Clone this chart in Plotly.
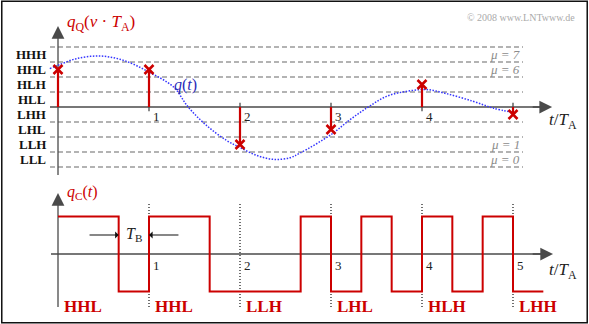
import plotly.graph_objects as go

# ---------------- data ----------------
level_labels = ["HHH", "HHL", "HLH", "HLL", "LHH", "LHL", "LLH", "LLL"]
level_values = [3.5, 2.5, 1.5, 0.5, -0.5, -1.5, -2.5, -3.5]
boundaries = [4, 3, 2, 1, -1, -2, -3, -4]
mu_labels = ["μ = 7", "μ = 6", "μ = 1", "μ = 0"]
mu_values = [3.5, 2.5, -2.5, -3.5]

t_curve = [-0.09, 0.0, 0.2, 0.46, 0.72, 1.0, 1.27, 1.43, 1.63, 1.85, 2.0, 2.18,
           2.37, 2.55, 2.66, 3.0, 3.21, 3.41, 3.61, 3.83, 4.05, 4.27, 4.56, 4.78, 5.0]
q_curve = [2.56, 2.78, 3.22, 3.40, 3.11, 2.33, 1.33, 0.0, -1.22, -2.22, -2.70, -3.22,
           -3.49, -3.38, -3.07, -1.84, -0.84, 0.0, 0.71, 1.04, 1.16, 0.89, 0.38, -0.07, -0.36]

t_samples = [0, 1, 2, 3, 4, 5]
q_quant = [2.5, 2.5, -2.5, -1.5, 1.5, -0.5]
code_words = ["HHL", "HHL", "LLH", "LHL", "HLH", "LHH"]
bit_level = {"H": 1, "L": -1}
tick_labels = ["1", "2", "3", "4", "5"]

RED = "#cc0000"
AX = "#4a4a4a"
SERIF = "Liberation Serif"

fig = go.Figure()

# ---------------- top panel ----------------
xs, ys = [], []
for b in boundaries:
    xs += [-0.088, 5.11, None]
    ys += [b, b, None]
fig.add_trace(go.Scatter(x=xs, y=ys, mode="lines",
                         line=dict(color="#9a9a9a", width=1.5, dash="5px,3px"),
                         hoverinfo="skip", showlegend=False))

fig.add_trace(go.Scatter(x=[-0.088, 5.35], y=[0, 0], mode="lines",
                         line=dict(color=AX, width=1.3), showlegend=False, hoverinfo="skip"))
fig.add_trace(go.Scatter(x=[0, 0], y=[-4.53, 5.1], mode="lines",
                         line=dict(color=AX, width=1.3), showlegend=False, hoverinfo="skip"))

xs, ys = [], []
for t, q in zip(t_samples[1:], q_quant[1:]):
    s = -0.28 if q > 0 else 0.28
    xs += [t, t, None]
    ys += [0, s, None]
fig.add_trace(go.Scatter(x=xs, y=ys, mode="lines", line=dict(color=AX, width=1.3),
                         showlegend=False, hoverinfo="skip"))

fig.add_trace(go.Scatter(x=t_curve, y=q_curve, mode="lines", line_shape="spline",
                         line=dict(color="#3535ff", width=1.5, dash="1.5px,1.5px"),
                         showlegend=False, hoverinfo="skip"))

xs, ys = [], []
for t, q in zip(t_samples, q_quant):
    xs += [t, t, None]
    ys += [0, q, None]
fig.add_trace(go.Scatter(x=xs, y=ys, mode="lines", line=dict(color=RED, width=2.2),
                         showlegend=False, hoverinfo="skip"))
fig.add_trace(go.Scatter(x=t_samples, y=q_quant, mode="markers",
                         marker=dict(symbol="x-thin", size=9, line=dict(color=RED, width=2.6)),
                         showlegend=False, hoverinfo="skip"))

# ---------------- bottom panel ----------------
bits = "".join(code_words)
n = 16
sx = [i / 3 for i in range(n)] + [n / 3]
sy = [bit_level[c] for c in bits[:n]] + [bit_level[bits[n - 1]]]

xs, ys = [], []
for t in t_samples[1:]:
    xs += [t, t, None]
    ys += [-1.41, 1.39, None]
fig.add_trace(go.Scatter(x=xs, y=ys, yaxis="y2", mode="lines",
                         line=dict(color="#222222", width=1.3, dash="1px,2px"),
                         showlegend=False, hoverinfo="skip"))
fig.add_trace(go.Scatter(x=[-0.077, 5.35], y=[0, 0], yaxis="y2", mode="lines",
                         line=dict(color=AX, width=1.3), showlegend=False, hoverinfo="skip"))
fig.add_trace(go.Scatter(x=[0, 0], y=[-1.41, 1.45], yaxis="y2", mode="lines",
                         line=dict(color=AX, width=1.3), showlegend=False, hoverinfo="skip"))
fig.add_trace(go.Scatter(x=sx, y=sy, yaxis="y2", mode="lines", line_shape="hv",
                         line=dict(color=RED, width=2.0), showlegend=False, hoverinfo="skip"))

ann = []
for (x0, x1, y0, y1, yr) in [(5.2, 5.43, 0, 0, "y"), (0, 0, 4.9, 5.4, "y"),
                             (5.2, 5.44, 0, 0, "y2"), (0, 0, 1.3, 1.63, "y2")]:
    ann.append(dict(x=x1, y=y1, ax=x0, ay=y0, xref="x", yref=yr, axref="x", ayref=yr,
                    text="", showarrow=True, arrowhead=2, arrowsize=1.7, arrowwidth=1.5,
                    arrowcolor=AX, standoff=0))
for (x0, x1) in [(0.33, 0.667), (1.34, 1.0)]:
    ann.append(dict(x=x1, y=0.507, ax=x0, ay=0.507, xref="x", yref="y2", axref="x", ayref="y2",
                    text="", showarrow=True, arrowhead=1, arrowsize=1.0, arrowwidth=1.2,
                    arrowcolor="#111111", standoff=0))
ann.append(dict(x=0.84, y=0.507, xref="x", yref="y2", text="<i>T</i><sub>B</sub>",
                showarrow=False, font=dict(family=SERIF, size=16, color="#222222")))

for lab, v in zip(level_labels, level_values):
    ann.append(dict(x=-0.105, y=v, xref="x", yref="y", text="<b>" + lab + "</b>",
                    xanchor="right", yanchor="middle", showarrow=False,
                    font=dict(family=SERIF, size=13, color="#111111")))
for lab, v in zip(mu_labels, mu_values):
    ann.append(dict(x=5.1, y=v, xref="x", yref="y", text="<i>" + lab + "</i>",
                    xanchor="right", yanchor="middle", showarrow=False,
                    font=dict(family=SERIF, size=13, color="#8c8c8c")))
for t, lab in zip(t_samples[1:], tick_labels):
    if t < 5:
        ann.append(dict(x=t + 0.02, y=-0.6, xref="x", yref="y", text=lab, xanchor="left",
                        yanchor="middle", showarrow=False,
                        font=dict(family=SERIF, size=13, color="#222222")))
    ann.append(dict(x=t + 0.02, y=-0.3, xref="x", yref="y2", text=lab, xanchor="left",
                    yanchor="middle", showarrow=False,
                    font=dict(family=SERIF, size=13, color="#222222")))
for k, w in enumerate(code_words):
    ann.append(dict(x=k + 0.04, y=-1.39, xref="x", yref="y2", text="<b>" + w + "</b>",
                    xanchor="left", yanchor="middle", showarrow=False,
                    font=dict(family=SERIF, size=17, color=RED)))
ann += [
    dict(x=0.075, y=5.6, xref="x", yref="y", xanchor="left", yanchor="middle",
         text="<i>q</i><sub>Q</sub>(<i>ν</i> · <i>T</i><sub>A</sub>)", showarrow=False,
         font=dict(family=SERIF, size=17, color=RED)),
    dict(x=1.25, y=1.5, xref="x", yref="y", xanchor="left", yanchor="middle",
         text="<i>q</i>(<i>t</i>)", showarrow=False,
         font=dict(family=SERIF, size=16, color="#2a2ab8")),
    dict(x=5.37, y=-0.95, xref="x", yref="y", xanchor="left", yanchor="middle",
         text="<i>t</i>/<i>T</i><sub>A</sub>", showarrow=False,
         font=dict(family=SERIF, size=17, color="#222222")),
    dict(x=0.075, y=1.65, xref="x", yref="y2", xanchor="left", yanchor="middle",
         text="<i>q</i><sub>C</sub>(<i>t</i>)", showarrow=False,
         font=dict(family=SERIF, size=16, color=RED)),
    dict(x=5.37, y=-0.45, xref="x", yref="y2", xanchor="left", yanchor="middle",
         text="<i>t</i>/<i>T</i><sub>A</sub>", showarrow=False,
         font=dict(family=SERIF, size=17, color="#222222")),
    dict(x=577 / 589, y=1 - 17 / 324, xref="paper", yref="paper", xanchor="right",
         yanchor="middle", text="© 2008 www.LNTwww.de", showarrow=False,
         font=dict(family=SERIF, size=10, color="#aaaaaa")),
]

fig.update_layout(
    width=589, height=324, margin=dict(l=0, r=0, t=0, b=0),
    paper_bgcolor="white", plot_bgcolor="white", showlegend=False,
    xaxis=dict(range=[-58 / 91, 531 / 91], domain=[0, 1], visible=False, fixedrange=True),
    yaxis=dict(range=[(107 - 324) / 15, 107 / 15], domain=[0, 1], visible=False),
    yaxis2=dict(range=[(254 - 324) / 37.5, 254 / 37.5], domain=[0, 1], visible=False,
                overlaying="y"),
    annotations=ann,
    shapes=[dict(type="rect", xref="paper", yref="paper", x0=0.003, x1=0.997, y0=0.004,
                 y1=0.996, line=dict(color="#111111", width=1.5))],
)

fig.write_html("out.html")
